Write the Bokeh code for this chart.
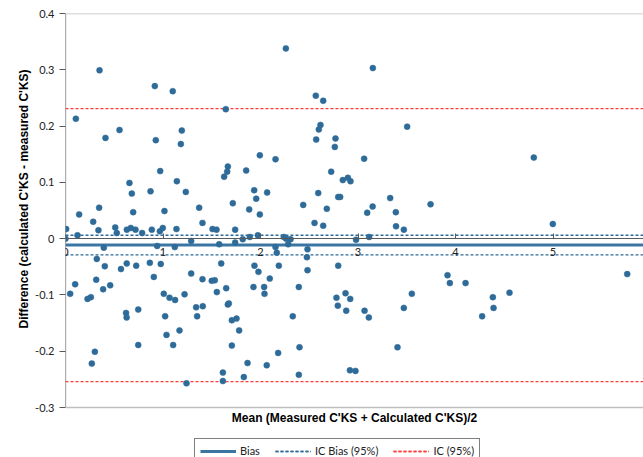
from bokeh.plotting import figure
from bokeh.models import Range1d, LinearAxis, FixedTicker, Legend, LegendItem, Label, Span, Title
from bokeh.embed import file_html
from bokeh.resources import INLINE

# ---- data ----
mean_vals = [
    0.007, 0.000, 0.106, 0.123, 0.140, 0.284, 0.349, 0.345, 0.338, 0.410,
    0.554, 0.510, 0.526, 0.656, 0.680, 0.694, 0.629, 0.670, 0.718, 0.786,
    0.872, 0.885, 0.916, 0.926, 0.971, 0.968, 0.998, 1.015, 1.100, 1.142,
    1.138, 1.193, 1.183, 1.234, 1.371, 1.405, 1.508, 1.549, 1.627, 1.644,
    1.665, 1.658, 1.716, 1.740, 1.853, 1.884, 1.935, 1.956, 1.993, 1.993,
    1.973, 2.068, 2.154, 2.260, 2.438, 2.567, 2.643, 2.615, 2.598, 2.571,
    2.592, 2.554, 2.680, 2.643, 2.725, 3.152, 3.504, 2.769, 2.762, 3.063,
    2.844, 2.896, 2.923, 2.797, 2.817, 3.330, 3.150, 3.094, 3.388, 3.744,
    3.390, 3.470, 4.803, 4.998, 2.980, 3.114, 2.797, 2.779, 2.793, 2.872,
    2.920, 2.879, 3.067, 3.111, 2.917, 2.974, 3.405, 3.470, 3.552, 3.918,
    3.942, 4.103, 4.383, 4.390, 4.273, 4.554, 5.761, 0.048, 0.099, 0.226,
    0.260, 0.315, 0.321, 0.301, 0.270, 0.393, 0.403, 0.386, 0.458, 0.569,
    0.621, 0.627, 0.628, 0.725, 0.746, 0.746, 0.865, 0.906, 0.940, 0.977,
    1.008, 1.022, 1.036, 1.067, 1.104, 1.124, 1.121, 1.169, 1.221, 1.241,
    1.289, 1.289, 1.340, 1.350, 1.408, 1.405, 1.500, 1.531, 1.552, 1.576,
    1.597, 1.614, 1.614, 1.648, 1.665, 1.675, 1.706, 1.754, 1.706, 1.740,
    1.781, 1.818, 1.867, 1.829, 1.890, 1.938, 1.979, 1.928, 2.037, 2.041,
    2.064, 2.095, 2.154, 2.167, 2.188, 2.181, 2.239, 2.263, 2.284, 2.308,
    2.331, 2.393, 2.400, 2.393, 2.482, 2.476, 2.482,
]
diff_vals = [
    0.017, 0.000, 0.213, 0.006, 0.043, 0.030, 0.299, 0.055, 0.015, 0.179,
    0.193, 0.020, 0.010, 0.099, 0.080, 0.047, 0.016, 0.019, 0.016, 0.010,
    0.084, 0.016, 0.271, 0.175, 0.120, 0.013, 0.019, 0.049, 0.262, 0.102,
    0.017, 0.192, 0.168, 0.083, 0.055, 0.028, 0.017, 0.016, 0.110, 0.230,
    0.128, 0.119, 0.063, 0.016, 0.121, 0.052, 0.086, 0.071, 0.148, 0.043,
    0.006, 0.082, 0.141, 0.338, 0.060, 0.254, 0.245, 0.202, 0.194, 0.176,
    0.081, 0.028, 0.053, 0.023, 0.119, 0.303, 0.199, 0.178, 0.163, 0.142,
    0.104, 0.108, 0.102, 0.074, 0.074, 0.072, 0.057, 0.046, 0.047, 0.061,
    0.022, 0.016, 0.144, 0.026, -0.002, 0.003, -0.048, -0.105, -0.119, -0.097,
    -0.107, -0.128, -0.128, -0.140, -0.234, -0.235, -0.193, -0.123, -0.098, -0.065,
    -0.079, -0.079, -0.104, -0.123, -0.138, -0.096, -0.063, -0.098, -0.081, -0.107,
    -0.104, -0.073, -0.036, -0.201, -0.222, -0.016, -0.049, -0.090, -0.083, -0.054,
    -0.132, -0.140, -0.044, -0.048, -0.126, -0.189, -0.043, -0.068, -0.013, -0.045,
    -0.098, -0.138, -0.171, -0.105, -0.189, -0.109, -0.015, -0.163, -0.099, -0.257,
    -0.004, -0.062, -0.122, -0.138, -0.120, -0.072, -0.075, -0.074, -0.095, -0.010,
    -0.044, -0.238, -0.253, -0.088, -0.117, -0.115, -0.145, -0.142, -0.190, -0.007,
    -0.163, -0.001, -0.221, -0.246, 0.003, -0.048, -0.059, -0.086, -0.086, -0.098,
    -0.225, -0.071, -0.015, -0.025, -0.048, -0.203, 0.003, 0.000, -0.010, -0.001,
    -0.138, -0.086, -0.193, -0.242, -0.019, -0.033, -0.056,
]

bias = -0.0115
ic_bias_upper = 0.006
ic_bias_lower = -0.029
ic_upper = 0.231
ic_lower = -0.254

x_ticks = [0, 1, 2, 3, 4, 5]
x_tick_labels = ["0", "1", "2", "3", "4", "5"]
y_ticks = [-0.3, -0.2, -0.1, 0, 0.1, 0.2, 0.3, 0.4]
y_tick_labels = ["-0.3", "-0.2", "-0.1", "0", "0.1", "0.2", "0.3", "0.4"]
x_min, x_max = 0, 5.928
y_min, y_max = -0.3, 0.4

x_title = "Mean (Measured C'KS + Calculated C'KS)/2"
y_title = "Difference (calculated C'KS - measured C'KS)"
legend_labels = ["Bias", "IC Bias (95%)", "IC (95%)"]

# ---- layout / styles ----
W, H = 643, 457
LEFT, TOP = 65, 13
BOTTOM_SPACE = 50                       # room under the plot area for title + legend (px)
PX_PER_UNIT_Y = 563.0
view_bottom = y_min - BOTTOM_SPACE / PX_PER_UNIT_Y

POINT = "#2e6b99"
BIAS = "#3b76a3"
RED = "#ff3b3b"
AXIS = "#595959"
TICK_FONT = "Lato"
TITLE_FONT = "Liberation Sans"

p = figure(width=W, height=H, output_backend="svg", toolbar_location=None,
           x_axis_type=None, y_axis_type=None,
           x_range=Range1d(x_min, x_max), y_range=Range1d(view_bottom, y_max),
           min_border_left=LEFT, min_border_right=0, min_border_top=TOP, min_border_bottom=0)
p.outline_line_color = None
p.background_fill_color = "white"
p.border_fill_color = "white"

# plot-area border (top / bottom)
for loc in (y_min, y_max):
    p.add_layout(Span(location=loc, dimension="width", line_color="#bfbfbf", line_width=1.5))

# y axis (line drawn only over the value range)
yaxis = LinearAxis(ticker=FixedTicker(ticks=y_ticks),
                   major_label_overrides={t: s for t, s in zip(y_ticks, y_tick_labels)})
yaxis.axis_line_color = None
yaxis.major_tick_line_color = AXIS
yaxis.major_tick_out = 6
yaxis.major_tick_in = 0
yaxis.minor_tick_line_color = None
yaxis.major_label_standoff = 5
yaxis.major_label_text_font = TICK_FONT
yaxis.major_label_text_font_size = "11px"
yaxis.major_label_text_color = "#222222"
p.add_layout(yaxis, "left")
p.segment(x0=[x_min], y0=[y_min], x1=[x_min], y1=[y_max], line_color=AXIS, line_width=1.2)

# y title
p.add_layout(Title(text=y_title, align="left", offset=129,
                   text_font=TITLE_FONT, text_font_style="bold", text_font_size="12px",
                   text_color="black", standoff=4), "left")

# x axis crossing at y = 0
xaxis0 = LinearAxis(fixed_location=0, ticker=FixedTicker(ticks=x_ticks),
                    major_label_overrides={t: s for t, s in zip(x_ticks, x_tick_labels)})
xaxis0.axis_line_color = AXIS
xaxis0.major_tick_line_color = AXIS
xaxis0.major_tick_in = 5
xaxis0.major_tick_out = 0
xaxis0.minor_tick_line_color = None
xaxis0.major_label_standoff = 9
xaxis0.major_label_text_font = TICK_FONT
xaxis0.major_label_text_font_size = "11px"
xaxis0.major_label_text_color = "#222222"
p.add_layout(xaxis0, "below")

# x title (under the plot area)
p.add_layout(Label(x=(W - LEFT) / 2, y=BOTTOM_SPACE - 10, x_units="screen", y_units="screen",
                   text=x_title, text_align="center", text_baseline="middle",
                   text_font=TITLE_FONT, text_font_style="bold", text_font_size="12px",
                   text_color="black"))

# reference lines
xs = [x_min, x_max]
r_ic_u = p.line(xs, [ic_upper, ic_upper], line_color=RED, line_width=1.3, line_dash="3 2")
r_ic_l = p.line(xs, [ic_lower, ic_lower], line_color=RED, line_width=1.3, line_dash="3 2")
r_icb_u = p.line(xs, [ic_bias_upper, ic_bias_upper], line_color=POINT, line_width=1.3, line_dash="3 2")
r_icb_l = p.line(xs, [ic_bias_lower, ic_bias_lower], line_color=POINT, line_width=1.3, line_dash="3 2")
r_bias = p.line(xs, [bias, bias], line_color=BIAS, line_width=3)

# points
p.scatter(mean_vals, diff_vals, size=6, marker="circle", fill_color=POINT,
          line_color=POINT, line_width=0.5)

legend = Legend(items=[
    LegendItem(label=legend_labels[0], renderers=[r_bias]),
    LegendItem(label=legend_labels[1], renderers=[r_icb_u, r_icb_l]),
    LegendItem(label=legend_labels[2], renderers=[r_ic_u, r_ic_l]),
], orientation="horizontal", location=(129, -6))
legend.border_line_color = "black"
legend.border_line_width = 1.5
legend.padding = 5
legend.margin = 0
legend.spacing = 15
legend.glyph_width = 36
legend.glyph_height = 12
legend.label_standoff = 4
legend.label_height = 12
legend.label_text_font = TICK_FONT
legend.label_text_font_size = "11px"
legend.label_text_color = "#222222"
legend.background_fill_color = "white"
legend.background_fill_alpha = 1
p.add_layout(legend)

open("out.html", "w").write(file_html(p, INLINE))
